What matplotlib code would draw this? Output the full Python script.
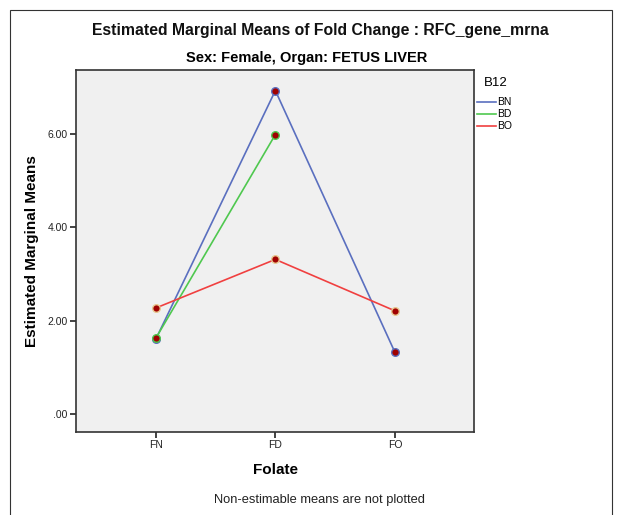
import numpy as np
import matplotlib
matplotlib.use("Agg")
import matplotlib.pyplot as plt
from matplotlib.patches import Rectangle

plt.rcParams['font.family'] = ['Liberation Sans', 'DejaVu Sans']

# Data
folate = ["FN", "FD", "FO"]
bn = [1.60, 6.92, 1.32]
bd = [1.62, 5.98, np.nan]   # FO not estimable
bo = [2.27, 3.31, 2.21]
series_names = ["BN", "BD", "BO"]
yticks = [0, 2, 4, 6]
yticklabels = [".00", "2.00", "4.00", "6.00"]

W, H = 632, 515
fig = plt.figure(figsize=(W / 100, H / 100), dpi=100)
fig.patch.set_facecolor("white")

# outer frame
fig.add_artist(Rectangle((10 / W, -0.01), 602 / W, 1 - 10 / H + 0.01,
                         transform=fig.transFigure, fill=False,
                         edgecolor="#333333", linewidth=0.8))

# plot area: x 76..474, y 70..432
ax = fig.add_axes([76 / W, 1 - 432 / H, (474 - 76) / W, (432 - 70) / H])
ax.set_facecolor("#f0f0f0")

x = np.arange(len(folate))
colors = ["#5a6fbf", "#4fc84f", "#f04040"]
edges = ["#5a6fbf", "#4fc84f", "#e8c890"]
for vals, c, e, name in zip([bn, bd, bo], colors, edges, series_names):
    ax.plot(x, vals, color=c, linewidth=1.2, label=name, zorder=2)
    ax.scatter(x, vals, s=30, facecolor="#a00000", edgecolor=e,
               linewidth=1.0, zorder=3)

ax.set_xlim(-0.666, 2.66)
ax.set_ylim(-0.38, 7.36)
ax.set_xticks(x)
ax.set_xticklabels(folate)
ax.set_yticks(yticks)
ax.set_yticklabels(yticklabels)
ax.tick_params(axis="both", direction="out", length=4, width=1.2,
               labelsize=7.5, colors="#222222", pad=2)
for sp in ax.spines.values():
    sp.set_linewidth(1.2)
    sp.set_color("#333333")

ax.set_xlabel("Folate", fontsize=11, fontweight="bold", labelpad=9)
ax.set_ylabel("Estimated Marginal Means", fontsize=11, fontweight="bold",
              labelpad=6)

fig.text(320 / W, 1 - 30 / H,
         "Estimated Marginal Means of Fold Change : RFC_gene_mrna",
         ha="center", va="center", fontsize=11.3, fontweight="bold",
         color="#111111")
fig.text(307 / W, 1 - 58 / H, "Sex: Female, Organ: FETUS LIVER",
         ha="center", va="center", fontsize=10.5, fontweight="bold")
fig.text(319 / W, 1 - 500 / H, "Non-estimable means are not plotted",
         ha="center", va="center", fontsize=9.3, color="#222222")

# legend drawn by hand in figure coordinates
fig.text(484 / W, 1 - 83 / H, "B12", ha="left", va="center", fontsize=9.5)
for i, (c, name) in enumerate(zip(colors, series_names)):
    yy = 1 - (102 + i * 12) / H
    fig.add_artist(plt.Line2D([477 / W, 496 / W], [yy, yy],
                              transform=fig.transFigure, color=c,
                              linewidth=1.2))
    fig.text(497 / W, yy, name, ha="left", va="center", fontsize=7.5)

fig.savefig("out.png", dpi=100)
